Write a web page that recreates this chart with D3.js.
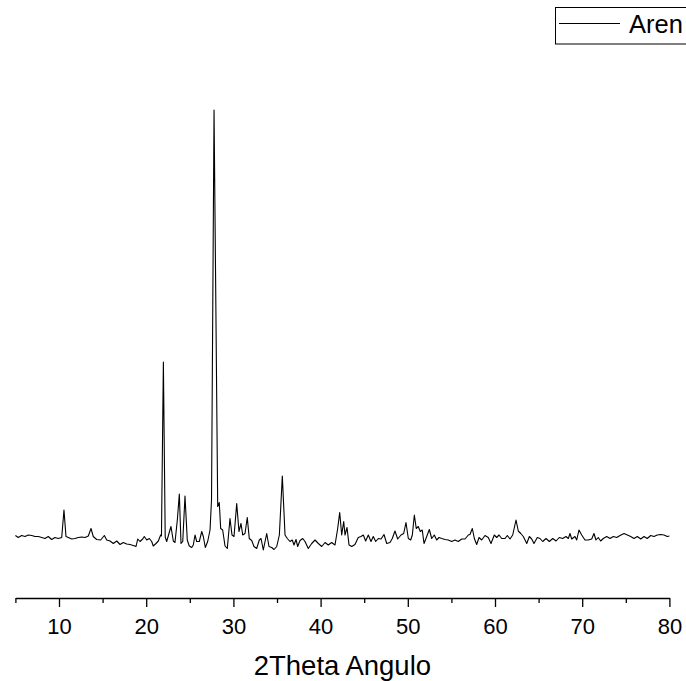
<!DOCTYPE html>
<html>
<head>
<meta charset="utf-8">
<script src="https://cdn.jsdelivr.net/npm/d3@7"></script>
<style>
  html, body { margin: 0; padding: 0; background: #fff; }
  svg { display: block; }
</style>
</head>
<body>
<svg id="chart" width="686" height="681"></svg>
<script>
// ---- data ----
const twoTheta = [
  5.00,5.33,5.72,6.10,6.48,6.87,7.25,7.63,8.02,8.39,8.77,9.16,9.54,9.92,10.31,10.57,10.80,11.07,11.46,11.84,
  12.21,12.60,12.98,13.36,13.67,13.93,14.32,14.78,15.20,15.47,15.85,16.23,16.62,17.00,17.37,17.76,18.14,18.52,18.83,19.03,
  19.29,19.60,19.78,20.06,20.36,20.63,20.81,21.12,21.39,21.66,21.75,21.97,22.18,22.35,22.84,23.11,23.30,23.57,23.80,23.99,
  24.19,24.45,24.71,24.94,25.22,25.40,25.60,25.79,26.09,26.37,26.55,26.78,27.05,27.32,27.49,27.78,28.20,28.38,28.54,28.77,
  29.04,29.30,29.61,29.84,30.07,30.38,30.64,30.87,31.07,31.33,31.59,31.82,32.10,32.36,32.67,32.97,33.17,33.43,33.82,34.08,
  34.39,34.66,34.97,35.27,35.61,35.92,36.18,36.49,36.75,36.95,37.18,37.37,37.64,37.95,38.21,38.59,38.98,39.36,39.74,40.13,
  40.51,40.88,41.27,41.65,41.96,42.19,42.42,42.65,42.80,43.03,43.26,43.57,43.94,44.32,44.63,44.90,45.17,45.47,45.78,46.04,
  46.32,46.62,46.93,47.27,47.58,47.96,48.22,48.53,48.84,49.22,49.53,49.79,50.06,50.33,50.52,50.75,50.97,51.20,51.43,51.66,
  51.86,52.17,52.47,52.74,53.04,53.31,53.58,53.89,54.27,54.65,55.03,55.41,55.79,56.18,56.56,56.94,57.13,57.40,57.63,57.90,
  58.17,58.47,58.85,59.23,59.54,59.92,60.19,60.46,60.77,61.15,61.41,61.72,62.03,62.41,62.67,62.95,63.25,63.64,63.94,64.21,
  64.47,64.85,65.16,65.47,65.85,66.23,66.62,67.00,67.37,67.76,68.14,68.41,68.60,68.80,69.17,69.37,69.63,69.94,70.32,70.70,
  71.09,71.35,71.58,71.84,72.12,72.42,72.81,73.19,73.57,73.96,74.34,74.80,75.18,75.56,75.94,76.32,76.71,77.09,77.46,77.86,
  78.23,78.61,79.00,79.38,79.76,80.00
];
const intensity = [
  125,121,125,123,126,125,123,123,121,119,123,117,121,119,121,176,123,121,118,119,
  121,122,121,124,139,123,117,116,125,116,114,109,114,107,111,108,107,105,103,118,
  113,118,123,116,119,113,104,109,114,126,124,472,122,113,143,114,111,156,208,109,
  113,204,116,104,101,106,126,113,113,133,123,101,113,136,196,976,183,191,139,136,
  104,99,159,126,123,189,133,149,126,129,161,119,115,103,99,116,119,96,129,103,
  101,97,103,126,244,126,119,113,116,106,117,103,115,119,113,99,109,116,109,103,
  111,106,111,106,139,171,126,153,126,141,106,103,107,121,123,126,114,126,113,123,
  113,119,118,127,109,111,119,134,118,126,129,151,119,116,126,166,139,143,133,136,
  109,123,137,119,126,116,121,119,117,116,113,116,113,118,118,126,127,139,119,107,
  121,116,125,121,109,126,121,126,119,119,125,118,126,156,134,129,123,109,123,118,
  109,121,119,113,119,113,119,114,121,119,123,119,129,118,123,116,136,126,116,116,
  118,129,116,121,114,119,123,119,123,121,125,129,126,123,119,123,118,123,119,125,
  123,126,127,126,123,124
];
const majorTicks = [10, 20, 30, 40, 50, 60, 70, 80];
const minorTicks = [5, 15, 25, 35, 45, 55, 65, 75];
const xTitle = "2Theta Angulo";
const seriesName = "Aren";

// ---- drawing ----
const svg = d3.select("#chart");
const font = "'Liberation Sans', Arial, sans-serif";

const x = d3.scaleLinear().domain([5, 80]).range([15.4, 669.4]);
const y = d3.scaleLinear().domain([0, 1000]).range([598, 98]);

const data = twoTheta.map((t, i) => ({ t, v: intensity[i] }));

svg.append("path")
  .datum(data)
  .attr("fill", "none")
  .attr("stroke", "#000")
  .attr("stroke-width", 1.1)
  .attr("stroke-linejoin", "round")
  .attr("d", d3.line().x(d => x(d.t)).y(d => y(d.v)));

// minor ticks
const minorAxis = d3.axisBottom(x).tickValues(minorTicks).tickSize(5).tickSizeOuter(0).tickFormat("");
const gMinor = svg.append("g").attr("transform", "translate(0,598)").call(minorAxis);
gMinor.select(".domain").remove();
gMinor.selectAll("line").attr("stroke", "#000").attr("stroke-width", 1.3);

// major axis
const axis = d3.axisBottom(x).tickValues(majorTicks).tickSize(9).tickSizeOuter(0).tickPadding(11)
  .tickFormat(d3.format("d"));
const gAxis = svg.append("g").attr("transform", "translate(0,598)").call(axis);
gAxis.select(".domain").attr("stroke", "#000").attr("stroke-width", 1.3);
gAxis.selectAll("line").attr("stroke", "#000").attr("stroke-width", 1.3);
gAxis.selectAll("text").attr("font-family", font).attr("font-size", 22).attr("fill", "#000");

// axis title
svg.append("text")
  .attr("x", (x(5) + x(80)) / 2)
  .attr("y", 675)
  .attr("text-anchor", "middle")
  .attr("font-family", font)
  .attr("font-size", 27.5)
  .attr("fill", "#000")
  .text(xTitle);

// legend
const lg = svg.append("g");
lg.append("rect")
  .attr("x", 555.5).attr("y", 7.5)
  .attr("width", 140).attr("height", 36.5)
  .attr("fill", "#fff").attr("stroke", "#000").attr("stroke-width", 1);
lg.append("line")
  .attr("x1", 559).attr("x2", 620).attr("y1", 23.5).attr("y2", 23.5)
  .attr("stroke", "#000").attr("stroke-width", 1);
lg.append("text")
  .attr("x", 629).attr("y", 33)
  .attr("font-family", font).attr("font-size", 25.5).attr("fill", "#000")
  .text(seriesName);
</script>
</body>
</html>
